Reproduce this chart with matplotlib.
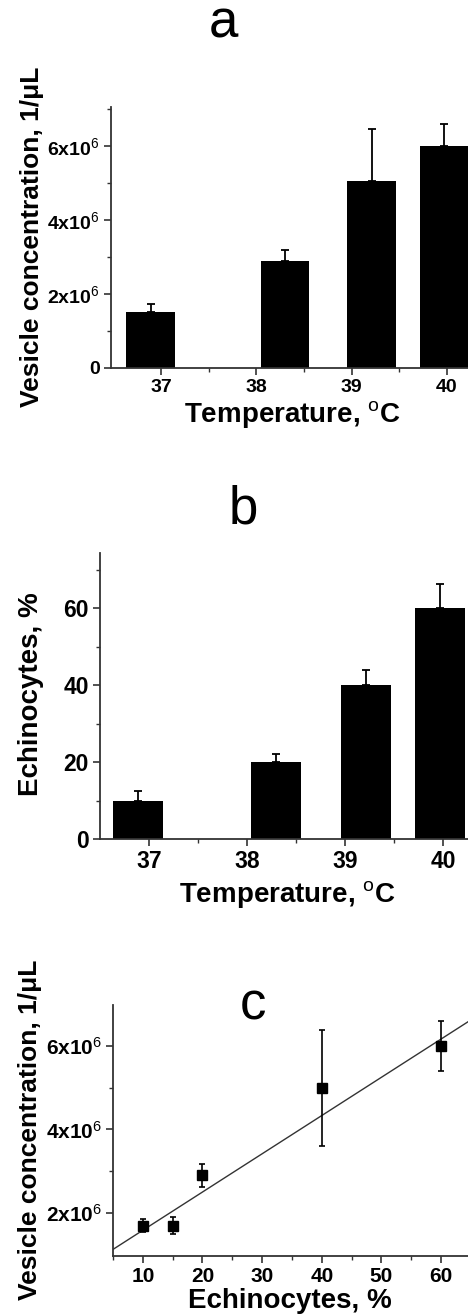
import matplotlib
matplotlib.use("Agg")
import matplotlib.pyplot as plt
import numpy as np
from matplotlib.ticker import FixedLocator, MultipleLocator

plt.rcParams['font.family'] = ['Liberation Sans', 'DejaVu Sans']
plt.rcParams['mathtext.fontset'] = 'custom'
plt.rcParams['mathtext.rm'] = 'Liberation Sans'
plt.rcParams['mathtext.bf'] = 'Liberation Sans:bold'
plt.rcParams['mathtext.it'] = 'Liberation Sans:italic'

# ---------------- data ----------------
temperatures = ['37', '38', '39', '40']
bar_pos = [-0.11, 1.30, 2.21, 2.97]          # bar centres on the category axis (as drawn)
vesicle_conc = [1.5e6, 2.9e6, 5.05e6, 6.0e6]
vesicle_err = [0.22e6, 0.30e6, 1.40e6, 0.60e6]
echinocytes = [10, 20, 40, 60]
echinocytes_err = [2.4, 2.1, 3.9, 6.2]

echino_x = [10, 15, 20, 40, 60]
vesicle_y = [1.7e6, 1.7e6, 2.9e6, 5.0e6, 6.0e6]
vesicle_y_err = [0.15e6, 0.2e6, 0.28e6, 1.39e6, 0.6e6]
fit_intercept = 0.67e6
fit_slope = 0.0916e6

conc_ticks = [0, 2e6, 4e6, 6e6]
conc_ticklabels = ['0', r'2x10$^{\mathrm{6}}$', r'4x10$^{\mathrm{6}}$', r'6x10$^{\mathrm{6}}$']
echino_ticks = [0, 20, 40, 60]
c_xticks = [10, 20, 30, 40, 50, 60]

# ---------------- figure ----------------
W, H = 468, 1314
fig = plt.figure(figsize=(W / 100, H / 100), dpi=100)

def px_axes(left, top, right, bottom):
    return fig.add_axes([left / W, 1 - bottom / H, (right - left) / W, (bottom - top) / H])

spine_col = '#333333'
lab_fs = 20

def style(ax, fs):
    for s in ['top', 'right']:
        ax.spines[s].set_visible(False)
    for s in ['left', 'bottom']:
        ax.spines[s].set_linewidth(1.3)
        ax.spines[s].set_color(spine_col)
    ax.tick_params(which='major', direction='out', length=5, width=1.2, color=spine_col,
                   labelsize=fs, pad=3)
    ax.tick_params(axis='x', which='major', pad=3)
    ax.tick_params(which='minor', direction='out', length=3, width=1.0, color=spine_col)
    for lab in ax.get_xticklabels() + ax.get_yticklabels():
        lab.set_fontweight('bold')

# ----- panel a -----
ax = px_axes(111, 107, 468, 368)
ax.bar(bar_pos, vesicle_conc, width=0.51, color='black', zorder=2)
ax.errorbar(bar_pos, vesicle_conc, yerr=[np.zeros(len(vesicle_err)), vesicle_err],
            fmt='none', ecolor='black', elinewidth=1.3, capsize=3, capthick=1.3, zorder=3)
ax.set_xlim(-0.525, 3.22)
ax.set_ylim(0, 7.05e6)
ax.set_xticks(range(len(temperatures)))
ax.set_xticklabels(temperatures)
ax.xaxis.set_minor_locator(FixedLocator([0.5, 1.5, 2.5]))
ax.set_yticks(conc_ticks)
ax.set_yticklabels(conc_ticklabels)
ax.yaxis.set_minor_locator(FixedLocator([1e6, 3e6, 5e6, 7e6]))
style(ax, 14)

fig.text(223 / W, 1 - 38 / H, 'a', fontsize=38, ha='center', va='baseline')
fig.text(292 / W, 1 - 422 / H, r'Temperature, $^{\mathrm{o}}$C', fontsize=lab_fs,
         fontweight='bold', ha='center', va='baseline')
fig.text(32 / W, 1 - 237 / H, 'Vesicle concentration, 1/μL', fontsize=19,
         fontweight='bold', rotation=90, ha='center', va='center')

# ----- panel b -----
ax = px_axes(100, 553, 468, 839)
ax.bar(bar_pos, echinocytes, width=0.51, color='black', zorder=2)
ax.errorbar(bar_pos, echinocytes, yerr=[np.zeros(len(echinocytes_err)), echinocytes_err],
            fmt='none', ecolor='black', elinewidth=1.3, capsize=3, capthick=1.3, zorder=3)
ax.set_xlim(-0.5, 3.255)
ax.set_ylim(0, 74.3)
ax.set_xticks(range(len(temperatures)))
ax.set_xticklabels(temperatures)
ax.xaxis.set_minor_locator(FixedLocator([0.5, 1.5, 2.5]))
ax.set_yticks(echino_ticks)
ax.yaxis.set_minor_locator(FixedLocator([10, 30, 50, 70]))
style(ax, 16.5)

fig.text(243 / W, 1 - 523 / H, 'b', fontsize=38, ha='center', va='baseline')
fig.text(287 / W, 1 - 902 / H, r'Temperature, $^{\mathrm{o}}$C', fontsize=lab_fs,
         fontweight='bold', ha='center', va='baseline')
fig.text(31 / W, 1 - 694 / H, 'Echinocytes, %', fontsize=lab_fs,
         fontweight='bold', rotation=90, ha='center', va='center')

# ----- panel c -----
ax = px_axes(113, 1005, 468, 1256)
xl = np.array([5, 64.5])
ax.plot(xl, fit_intercept + fit_slope * xl, color='#333333', lw=1.0, zorder=2)
ax.errorbar(echino_x, vesicle_y, yerr=vesicle_y_err, fmt='s', color='black', ms=7,
            ecolor='black', elinewidth=1.2, capsize=2.5, capthick=1.2, zorder=3)
ax.set_xlim(5, 64.5)
ax.set_ylim(0.97e6, 6.98e6)
ax.set_xticks(c_xticks)
ax.xaxis.set_minor_locator(MultipleLocator(5))
ax.set_yticks(conc_ticks[1:])
ax.set_yticklabels(conc_ticklabels[1:])
ax.yaxis.set_minor_locator(FixedLocator([3e6, 5e6]))
style(ax, 15)

fig.text(253 / W, 1 - 1020 / H, 'c', fontsize=38, ha='center', va='baseline')
fig.text(290 / W, 1 - 1308 / H, 'Echinocytes, %', fontsize=lab_fs,
         fontweight='bold', ha='center', va='baseline')
fig.text(30 / W, 1 - 1130 / H, 'Vesicle concentration, 1/μL', fontsize=19,
         fontweight='bold', rotation=90, ha='center', va='center')

fig.savefig('out.png', dpi=100)
